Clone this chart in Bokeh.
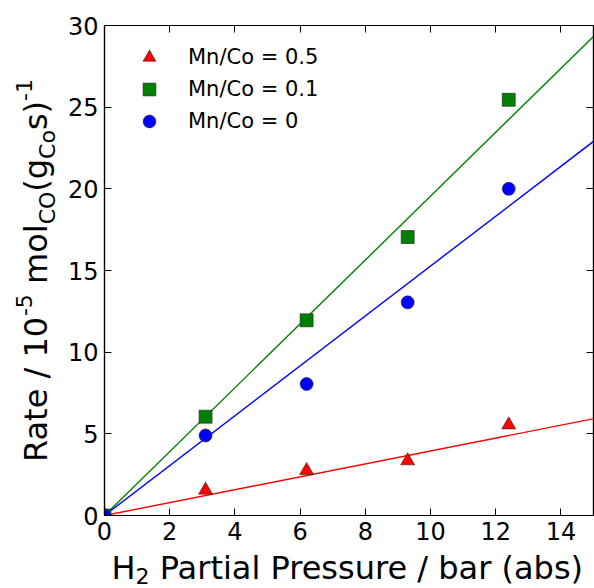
import math
from bokeh.plotting import figure
from bokeh.models import Range1d, LinearAxis, Legend, LegendItem, FixedTicker, Slope, ColumnDataSource
from bokeh.core.properties import value
from bokeh.embed import file_html
from bokeh.resources import INLINE

# ---- data ----
pressure = [0.0, 3.1, 6.2, 9.3, 12.4]
rate_mn05 = [0.0, 1.55, 2.75, 3.35, 5.55]
rate_mn01 = [0.0, 6.05, 11.95, 17.05, 25.45]
rate_mn0 = [0.0, 4.9, 8.05, 13.05, 20.0]
fit_slopes = [0.395, 1.955, 1.527]
series_labels = ["Mn/Co = 0.5", "Mn/Co = 0.1", "Mn/Co = 0"]
series_colors = ["#ff0000", "#008000", "#0000ff"]
series_markers = ["triangle", "square", "circle"]
marker_sizes = [14, 13, 13]
x_ticks = [0, 2, 4, 6, 8, 10, 12, 14]
y_ticks = [0, 5, 10, 15, 20, 25, 30]
x_limits = (0, 15)
y_limits = (0, 30)

FONT = "DejaVu Sans"
W = 594
H = 588
BL, BR, BT, BB = 104, 1, 25, 73
FW = W - BL - BR
FH = H - BT - BB
PX_X = FW / (x_limits[1] - x_limits[0])   # pixels per x unit
PX_Y = FH / (y_limits[1] - y_limits[0])   # pixels per y unit

p = figure(width=W, height=H, x_range=Range1d(*x_limits), y_range=Range1d(*y_limits),
           output_backend="svg", toolbar_location=None,
           min_border_left=BL, min_border_right=BR, min_border_top=BT, min_border_bottom=BB,
           x_axis_location=None, y_axis_location=None)
p.grid.visible = False
p.outline_line_color = "black"
p.outline_line_width = 1.2
p.background_fill_color = "white"
p.border_fill_color = "white"


def style_axis(ax, ticks, show_labels, standoff):
    ax.ticker = FixedTicker(ticks=ticks)
    ax.major_tick_in = 7
    ax.major_tick_out = 0
    ax.minor_tick_line_color = None
    ax.major_tick_line_color = "black"
    ax.major_tick_line_width = 1
    ax.axis_line_color = "black"
    ax.axis_line_width = 1.2
    if show_labels:
        ax.major_label_text_font = FONT
        ax.major_label_text_font_size = "24px"
        ax.major_label_text_color = "black"
        ax.major_label_standoff = standoff
    else:
        ax.major_label_text_font_size = "0px"
        ax.major_label_standoff = 0
        ax.major_label_overrides = {t: "" for t in ticks}


bottom = LinearAxis()
style_axis(bottom, x_ticks, True, 6)
p.add_layout(bottom, "below")
left = LinearAxis()
style_axis(left, y_ticks, True, 6)
p.add_layout(left, "left")
top = LinearAxis()
style_axis(top, x_ticks, False, 0)
p.add_layout(top, "above")
right = LinearAxis()
style_axis(right, y_ticks, False, 0)
p.add_layout(right, "right")

# fitted lines (through origin)
for s, c in zip(fit_slopes, series_colors):
    p.add_layout(Slope(gradient=s, y_intercept=0, line_color=c, line_width=1.4, level="underlay"))

renderers = []
for ys, c, m, sz in zip([rate_mn05, rate_mn01, rate_mn0], series_colors, series_markers, marker_sizes):
    r = p.scatter(pressure, ys, marker=m, size=sz, fill_color=c, line_color="#222222",
                  line_width=0.6)
    renderers.append(r)

legend = Legend(items=[LegendItem(label=l, renderers=[r]) for l, r in zip(series_labels, renderers)],
                location="top_left", border_line_alpha=0, background_fill_alpha=0,
                label_text_font=FONT, label_text_font_size="21px", label_text_color="black",
                glyph_width=58, glyph_height=32, label_height=32, spacing=-1,
                label_standoff=10, margin=16, padding=0)
p.add_layout(legend)

# ---- axis titles with sub/superscripts built from text pieces ----
ADV = {' ': 651, '(': 799, ')': 799, '-': 739, '.': 651, '/': 690, '=': 1716,
       'C': 1430, 'H': 1540, 'M': 1767, 'O': 1612, 'P': 1235, 'R': 1423,
       'a': 1255, 'b': 1300, 'e': 1260, 'g': 1300, 'i': 569, 'l': 569, 'm': 1995,
       'n': 1298, 'o': 1253, 'r': 842, 's': 1067, 't': 803, 'u': 1298}
for d in "0123456789":
    ADV[d] = 1303


def text_width(t, size):
    return sum(ADV.get(ch, 1200) for ch in t) / 2048.0 * size


MAIN, SCRIPT = 32, 22
BASE_FIX = 0.345   # renderer places glyph baseline this many em below the anchor

tx, ty, tt, tsz, tang = [], [], [], [], []

x_pieces = [("H", MAIN, 0), ("2", SCRIPT, -4), (" Partial Pressure / bar (abs)", MAIN, 0)]
total = sum(text_width(t, s) for t, s, _ in x_pieces)
pos = FW / 2 - total / 2
for t, s, sh in x_pieces:
    lead = len(t) - len(t.lstrip(" "))
    start = pos + text_width(" " * lead, s)
    base = -64 + sh + BASE_FIX * s
    tx.append(x_limits[0] + start / PX_X)
    ty.append(y_limits[0] + base / PX_Y)
    tt.append(t.strip())
    tsz.append(f"{s}px")
    tang.append(0.0)
    pos += text_width(t, s)

y_pieces = [("Rate / 10", MAIN, 0), ("-5", SCRIPT, 16), (" mol", MAIN, 0), ("CO", SCRIPT, -8),
            ("(g", MAIN, 0), ("Co", SCRIPT, -8), ("s)", MAIN, 0), ("-1", SCRIPT, 16)]
total = sum(text_width(t, s) for t, s, _ in y_pieces)
pos = FH / 2 - total / 2
for t, s, sh in y_pieces:
    lead = len(t) - len(t.lstrip(" "))
    start = pos + text_width(" " * lead, s)
    base = -57 - sh - BASE_FIX * s
    tx.append(x_limits[0] + base / PX_X)
    ty.append(y_limits[0] + start / PX_Y)
    tt.append(t.strip())
    tsz.append(f"{s}px")
    tang.append(math.pi / 2)
    pos += text_width(t, s)

title_src = ColumnDataSource(dict(x=tx, y=ty, text=tt, size=tsz, angle=tang))
p.text(x="x", y="y", text="text", angle="angle", source=title_src, text_font=value(FONT),
       text_font_size="size", text_color="black", text_align="left",
       text_baseline="alphabetic", level="overlay")

open("out.html", "w").write(file_html(p, INLINE))
